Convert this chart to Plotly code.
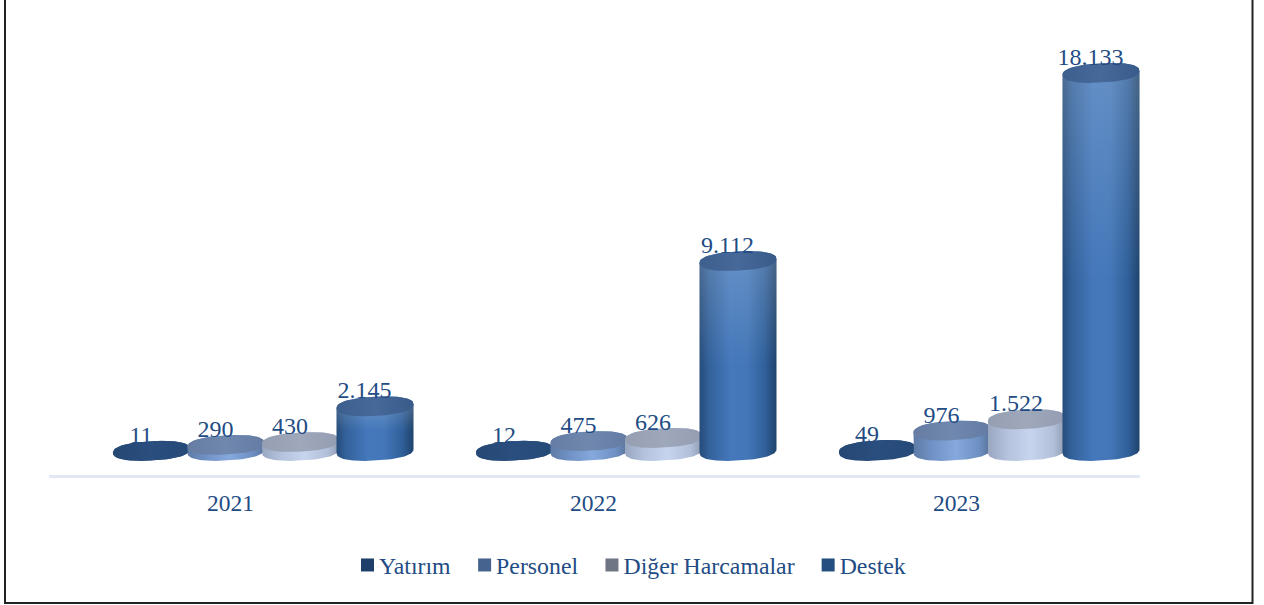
import numpy as np
import plotly.graph_objects as go

# ---- data ----
years = ["2021", "2022", "2023"]
yatirim = [11, 12, 49]
personel = [290, 475, 976]
diger = [430, 626, 1522]
destek = [2145, 9112, 18133]
series_names = ["Yatırım", "Personel", "Diğer Harcamalar", "Destek"]

# ---- styles ----
W, H = 1264, 605
FONT = "Liberation Serif"
TEXT = "#234c84"
PX_X = 363.0                 # px per category
PX_Y = 0.02085               # px per value unit
AXIS_PX, BASE_PX = 475, 451  # axis line, and centre of cylinder base
LEFT_PX = 49
side_scale = [
    [[0, "#26497a"], [1, "#26497a"]],
    [[0, "#5f7ba6"], [.25, "#7092c6"], [.55, "#86a9dd"], [.85, "#6d8fc2"], [1, "#587399"]],
    [[0, "#98a6c0"], [.25, "#b4c2dd"], [.55, "#c6d4ee"], [.85, "#b2bfd8"], [1, "#8f9cb4"]],
    [[0, "#254c7a"], [.12, "#33619a"], [.4, "#4478bb"], [.62, "#4377b8"], [.85, "#30609a"], [1, "#1f436c"]],
]
top_scale = [
    [[0, "#254874"], [.5, "#2a4e7e"], [1, "#254a78"]],
    [[0, "#667ca3"], [.5, "#7088ae"], [1, "#647ba3"]],
    [[0, "#969eb2"], [.5, "#9fa7bb"], [1, "#959db2"]],
    [[0, "#3c5f8e"], [.5, "#47699a"], [1, "#385b8a"]],
]
legend_colors = ["#1f3f6b", "#46628f", "#6f7585", "#244d80"]

# ---- scale helpers (pixel sizes expressed in axis units) ----
half_w = 38.5 / PX_X
half_h = 9.6 / PX_Y
tilt = 2.0 / PX_Y            # rise of the ellipse's right end
group_off = -79 / PX_X
step = 74.5 / PX_X
label_dx = -10.5 / PX_X
label_dy = 14 / PX_Y
ROUND = 0.85                 # <1 gives the blunter ends of the reference's discs


def rim(xc, level, t):
    c, s = np.cos(t), np.sin(t)
    cr = np.sign(c) * np.abs(c) ** ROUND
    sr = np.sign(s) * np.abs(s) ** ROUND
    return xc + half_w * cr, level + half_h * sr + tilt * cr


fig = go.Figure()

# legend entries
for name, col in zip(series_names, legend_colors):
    fig.add_trace(go.Scatter(x=[None], y=[None], mode="markers", name=name,
                             marker=dict(symbol="square", size=13, color=col)))

label_x, label_y, label_t = [], [], []
for g in range(len(years)):
    for s, vals in enumerate([yatirim, personel, diger, destek]):
        v = vals[g]
        xc = g + group_off + s * step
        back = np.linspace(0, np.pi, 40)
        front = np.linspace(np.pi, 2 * np.pi, 40)
        x1, y1 = rim(xc, v, back)
        x2, y2 = rim(xc, 0, front)
        sx = np.r_[x1, x2, x1[0]]
        sy = np.r_[y1, y2, y1[0]]
        common = dict(mode="lines", fill="toself", line=dict(width=0),
                      hoverinfo="skip", showlegend=False)
        fig.add_trace(go.Scatter(x=sx, y=sy, fillgradient=dict(
            type="horizontal", start=xc - half_w, stop=xc + half_w,
            colorscale=side_scale[s]), **common))
        if s == 3:   # paler towards the top of the column
            fig.add_trace(go.Scatter(x=sx, y=sy, fillgradient=dict(
                type="vertical", start=v, stop=v * 0.45,
                colorscale=[[0, "rgba(255,255,255,0.17)"], [1, "rgba(255,255,255,0)"]]), **common))
        t = np.linspace(0, 2 * np.pi, 80)
        tx, ty = rim(xc, v, t)
        fig.add_trace(go.Scatter(x=tx, y=ty, fillgradient=dict(
            type="horizontal", start=xc - half_w, stop=xc + half_w,
            colorscale=top_scale[s]), **common))
        label_x.append(xc + label_dx)
        label_y.append(v + label_dy)
        label_t.append(f"{v:,}".replace(",", "."))

fig.add_trace(go.Scatter(x=label_x, y=label_y, text=label_t, mode="text",
                         textposition="middle center", cliponaxis=False,
                         textfont=dict(family=FONT, size=24, color=TEXT),
                         hoverinfo="skip", showlegend=False))

fig.update_layout(
    width=W, height=H, autosize=False,
    margin=dict(l=0, r=0, t=0, b=0),
    paper_bgcolor="white", plot_bgcolor="white",
    font=dict(family=FONT, size=23.5, color=TEXT),
    xaxis=dict(domain=[LEFT_PX / W, 1140.0 / W],
               range=[-0.5, -0.5 + (1140.0 - LEFT_PX) / PX_X],
               tickmode="array", tickvals=list(range(len(years))), ticktext=years,
               showgrid=False, zeroline=False, showline=True,
               linecolor="#e2e8f3", linewidth=2.5,
               ticks="outside", ticklen=5, tickcolor="rgba(0,0,0,0)",
               tickfont=dict(family=FONT, size=23.5, color=TEXT)),
    yaxis=dict(domain=[(H - AXIS_PX) / H, 1],
               range=[(BASE_PX - AXIS_PX) / PX_Y, BASE_PX / PX_Y],
               visible=False, showgrid=False, zeroline=False),
    legend=dict(orientation="h", xanchor="left", yanchor="middle",
                x=339 / W, y=(H - 565) / H,
                bgcolor="rgba(0,0,0,0)",
                font=dict(family=FONT, size=23.8, color=TEXT)),
    shapes=[dict(type="rect", xref="paper", yref="paper",
                 x0=5 / W, x1=1252.5 / W, y0=(H - 603) / H, y1=1.01,
                 line=dict(color="#222222", width=2), fillcolor="rgba(0,0,0,0)")],
)

fig.write_html(
    "out.html",
    config={"displayModeBar": False},
    post_script=(
        "document.body.style.margin='0';document.body.style.overflow='hidden';"
        "document.querySelectorAll('.legendsymbols').forEach(function(g){"
        "g.setAttribute('transform','translate(8.5,0)');});"
    ),
)
